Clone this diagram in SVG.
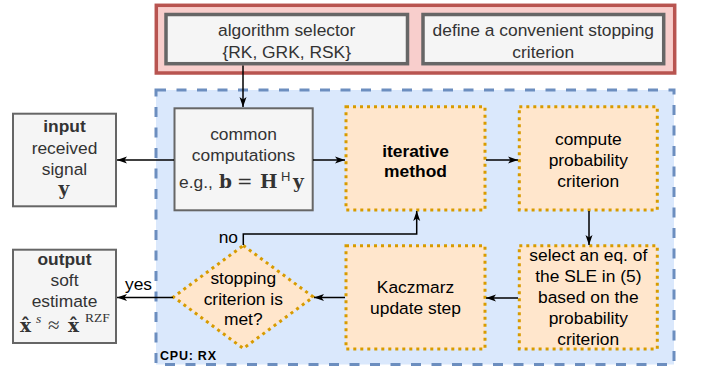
<svg xmlns="http://www.w3.org/2000/svg" width="701" height="366" viewBox="0 0 701 366">
<style>
text{font-family:"Liberation Sans",Arial,sans-serif;font-size:17.4px;text-anchor:middle}
.g{fill:#f5f5f5;stroke:#666666;stroke-width:2}
.gt{fill:#333333}
.o{fill:#ffe6cc;stroke:#d79b00;stroke-width:3;stroke-dasharray:3 4}
.ot{fill:#000000}
.b{font-weight:bold}
.m{font-family:"DejaVu Serif","Liberation Serif",serif;font-weight:bold;font-size:18.5px;text-anchor:start}
.c{fill:none;stroke:#000000;stroke-width:1.5}
.lbl{fill:#000000;text-anchor:end}
</style>
<defs>
<marker id="arr" markerWidth="10" markerHeight="8" refX="10" refY="4" orient="auto" markerUnits="userSpaceOnUse">
<path d="M0,0.5 L10,4 L0,7.5 L2.5,4 z" fill="#000000"/>
</marker>
</defs>

<g id="config">
<rect x="156.3" y="5.3" width="518.4" height="67.7" fill="#f8cecc" stroke="#b85450" stroke-width="3.5"/>
</g>
<g id="selector">
<rect x="166" y="14.5" width="241.5" height="49.2" fill="#f5f5f5" stroke="#666666" stroke-width="3.5"/>
<text class="gt" x="286.7" y="36">algorithm selector</text>
<text class="gt" x="286.7" y="58">{RK, GRK, RSK}</text>
</g>
<g id="stopdef">
<rect x="423" y="14.5" width="240.7" height="49.2" fill="#f5f5f5" stroke="#666666" stroke-width="3.5"/>
<text class="gt" x="543.3" y="36">define a convenient stopping</text>
<text class="gt" x="543.3" y="58">criterion</text>
</g>

<g id="cpu">
<rect x="156" y="90" width="518" height="274.5" fill="#dae8fc" stroke="#6c8ebf" stroke-width="3" stroke-dasharray="10 10.5"/>
<text x="160" y="360" class="b" style="font-size:12.5px;text-anchor:start" textLength="56" fill="#000000">CPU: RX</text>
</g>

<g id="input">
<rect class="g" x="13" y="113.7" width="103" height="92.6"/>
<text class="gt b" x="64.5" y="132">input</text>
<text class="gt" x="64.5" y="154">received</text>
<text class="gt" x="64.5" y="175">signal</text>
<text class="gt m" x="58.5" y="195">y</text>
</g>

<g id="common">
<rect class="g" x="174.5" y="108.3" width="138.2" height="102"/>
<text class="gt" x="243.5" y="140">common</text>
<text class="gt" x="243.5" y="161">computations</text>
<text class="gt" x="179" y="188" style="text-anchor:start">e.g.,</text>
<text class="gt m" x="219" y="188">b</text>
<text class="gt m" x="237" y="188" style="font-weight:normal">=</text>
<text class="gt m" x="260" y="188">H</text>
<text class="gt" x="281" y="181" style="font-size:13px;text-anchor:start">H</text>
<text class="gt m" x="293" y="188">y</text>
</g>

<g id="iterative">
<rect class="o" x="346" y="106.7" width="139" height="103.3"/>
<text class="ot b" x="415.5" y="157">iterative</text>
<text class="ot b" x="415.5" y="177">method</text>
</g>

<g id="prob">
<rect class="o" x="519.3" y="106.7" width="138" height="103.3"/>
<text class="ot" x="588.3" y="145">compute</text>
<text class="ot" x="588.3" y="166">probability</text>
<text class="ot" x="588.3" y="187">criterion</text>
</g>

<g id="select">
<rect class="o" x="519.3" y="245.7" width="138" height="103.3"/>
<text class="ot" x="588.3" y="261">select an eq. of</text>
<text class="ot" x="588.3" y="282">the SLE in (5)</text>
<text class="ot" x="588.3" y="303">based on the</text>
<text class="ot" x="588.3" y="324">probability</text>
<text class="ot" x="588.3" y="345">criterion</text>
</g>

<g id="kaczmarz">
<rect class="o" x="346" y="245.7" width="139" height="103.3"/>
<text class="ot" x="415.5" y="293">Kaczmarz</text>
<text class="ot" x="415.5" y="314">update step</text>
</g>

<g id="stopping">
<polygon class="o" points="243.3,245.5 313.3,297 243.3,348.5 173.5,297"/>
<text class="ot" x="243.3" y="284">stopping</text>
<text class="ot" x="243.3" y="304.5">criterion is</text>
<text class="ot" x="243.3" y="325">met?</text>
</g>

<g id="output">
<rect class="g" x="13" y="249.7" width="103" height="93.3"/>
<text class="gt b" x="64.5" y="265">output</text>
<text class="gt" x="64.5" y="286">soft</text>
<text class="gt" x="64.5" y="307">estimate</text>
<text class="gt m" x="20" y="332">x̂</text>
<text class="gt" x="36" y="323" style="font-family:'Liberation Serif',serif;font-style:italic;font-size:13.5px;text-anchor:start">s</text>
<text class="gt" x="48" y="332" style="font-family:'Liberation Serif',serif;font-size:21px;text-anchor:start">≈</text>
<text class="gt m" x="68" y="332">x̂</text>
<text class="gt" x="85" y="322" style="font-family:'Liberation Serif',serif;font-size:13.5px;text-anchor:start">RZF</text>
</g>

<g id="connectors">
<line class="c" x1="243" y1="65.5" x2="243" y2="107" marker-end="url(#arr)"/>
<line class="c" x1="174" y1="160" x2="117" y2="160" marker-end="url(#arr)"/>
<line class="c" x1="313" y1="160" x2="345" y2="160" marker-end="url(#arr)"/>
<line class="c" x1="486" y1="160" x2="518" y2="160" marker-end="url(#arr)"/>
<line class="c" x1="589" y1="211" x2="589" y2="245" marker-end="url(#arr)"/>
<line class="c" x1="518" y1="298" x2="486" y2="298" marker-end="url(#arr)"/>
<line class="c" x1="345" y1="297.5" x2="314" y2="297.5" marker-end="url(#arr)"/>
<line class="c" x1="173" y1="297.5" x2="117" y2="297.5" marker-end="url(#arr)"/>
<polyline class="c" points="243.3,245 243.3,234 416.7,234 416.7,211" marker-end="url(#arr)"/>
<text class="lbl" x="238" y="243">no</text>
<text class="lbl" x="152" y="290">yes</text>
</g>
</svg>
